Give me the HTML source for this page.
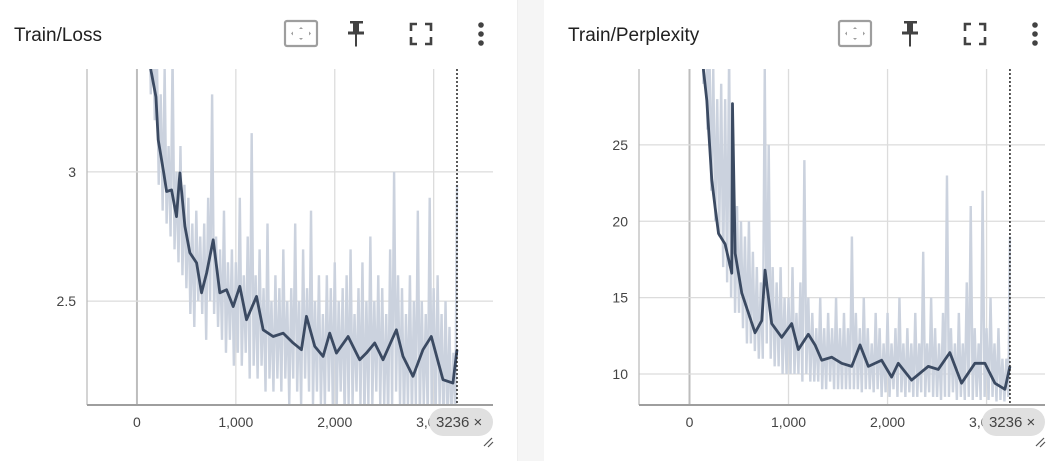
<!DOCTYPE html>
<html><head><meta charset="utf-8"><style>
html,body{margin:0;padding:0;background:#fff;width:1064px;height:461px;overflow:hidden;font-family:"Liberation Sans",sans-serif}
.strip{position:absolute;left:517px;top:0;width:26px;height:461px;background:#f5f5f5;border-left:1px solid #eee}
</style></head><body>
<div class="strip"></div>
<svg id="svg" width="1064" height="461" style="position:absolute;left:0;top:0"></svg>
<script>
// ---- Loss data ----
const lossSmoothSteps=[50,141,192,215,266,300,350,400,434,485,535,603,653,704,771,838,906,973,1040,1108,1209,1276,1377,1478,1579,1663,1714,1798,1882,1949,2017,2135,2252,2320,2404,2488,2623,2690,2791,2892,2976,3094,3195,3236];
const lossSmoothVals=[3.7,3.394,3.29,3.124,3.008,2.924,2.93,2.827,2.996,2.789,2.687,2.648,2.532,2.608,2.737,2.532,2.544,2.479,2.557,2.428,2.518,2.389,2.363,2.376,2.338,2.312,2.441,2.325,2.286,2.376,2.299,2.363,2.273,2.299,2.338,2.273,2.389,2.286,2.209,2.312,2.363,2.196,2.183,2.312];
const lossRawVals=[4.4,3.9,4.2,3.7,3.9,3.5,3.8,3.3,3.7,3.2,
3.5,2.95,3.3,2.85,3.4,2.8,3.1,2.75,3.45,2.7,
3.0,2.65,3.1,2.6,2.95,2.55,2.9,2.45,2.8,2.4,
2.85,2.5,2.75,2.45,2.8,2.35,2.9,2.5,3.3,2.45,
2.75,2.4,2.7,2.35,2.85,2.3,2.65,2.35,2.7,2.25,
2.65,2.3,2.9,2.25,2.6,2.3,2.75,2.2,3.15,2.25,
2.6,2.2,2.7,2.25,2.55,2.15,2.8,2.2,2.5,2.15,
2.6,2.2,2.55,2.15,2.7,2.2,2.5,2.1,2.55,2.2,
2.8,2.15,2.5,2.1,2.7,2.2,2.55,2.15,2.85,2.1,
2.5,2.15,2.6,2.1,2.45,2.1,2.6,2.15,2.55,2.1,
2.65,2.1,2.5,2.15,2.55,2.05,2.6,2.1,2.7,2.1,
2.45,2.15,2.55,2.1,2.65,2.05,2.5,2.1,2.75,2.1,
2.5,2.15,2.6,2.1,2.55,2.1,2.45,2.05,2.7,2.1,
3.0,2.15,2.6,2.1,2.55,2.05,2.45,2.1,2.6,2.05,
2.5,2.1,2.85,2.05,2.5,2.1,2.45,2.05,2.9,2.1,
2.55,2.05,2.6,2.1,2.45,2.0,2.5,2.05,2.4,2.0,
2.3,2.1,2.95];
const lossYTicks=[2.5,3];
const lossYLabels=["2.5","3"];
// ---- Perplexity data ----
const pplSmoothSteps=[50,141,175,225,259,293,360,427,434,461,528,595,662,730,763,830,931,1032,1099,1200,1268,1335,1436,1537,1638,1722,1806,1940,2041,2108,2243,2411,2512,2629,2747,2882,2983,3084,3185,3236];
const pplSmoothVals=[40,29.9,27.9,22.7,20.9,19.2,18.5,16.6,27.7,17.9,15.3,14.0,12.7,13.5,16.8,13.3,12.4,13.3,11.6,12.6,11.9,10.9,11.1,10.7,10.5,11.9,10.5,10.9,9.8,10.7,9.6,10.5,10.3,11.4,9.4,10.7,10.7,9.4,9.0,10.5];
const pplRawVals=[80,50,60,40,50,33,45,29,40,26,
32,22,30,20,28,19,29,17,28,16,
31,15,24,14,21,14,20,13,19,12,
20,12,18,11.5,17,11,16,11,30,12,
25,11,17,10.5,16,10.5,17,10,15,10,
15,10,17,10,14,10,16,9.5,24,10,
15,9.5,14,9.5,13,9.5,15,9,13,9,
14,9.5,13,9,15,9,13,9,14,9,
13,9,19,9,14,9,13,8.8,15,9,
13,9,12,8.8,14,9,13,8.5,12,8.8,
14,8.5,12,9,13,8.5,15,8.8,12,8.5,
13,8.8,12,8.5,14,8.5,12,8.8,18,8.5,
12,8.8,15,8.5,13,8.5,12,8.3,14,8.5,
23,8.5,13,8.8,12,8.3,14,8.5,12,8.3,
16,8.5,21,8.3,13,8.5,12,8.3,22,8.5,
13,8.3,15,8.5,12,8.2,13,8.3,11,8.2,
11,8.5,19];
const pplYTicks=[10,15,20,25,30];
const pplYLabels=["10","15","20","25","30"];
const rawStepSpacing=20;
const xTicks=[0,1000,2000,3000];
const xLabels=["0","1,000","2,000","3,000"];
const cursorStep=3236;

const NS="http://www.w3.org/2000/svg";
const svg=document.getElementById('svg');
function mk(tag,attrs,parent){const e=document.createElementNS(NS,tag);for(const k in attrs)e.setAttribute(k,attrs[k]);(parent||svg).appendChild(e);return e;}

function drawPanel(ox,title,plot,xDom,yDom,yTicks,yLabels,rawVals,smSteps,smVals,key){
  const g=mk('g',{});
  
  
  const t=mk('text',{x:ox+14,y:41,'font-size':19,fill:'#212121'},g);t.textContent=title;
  
  
  const ic1=mk('g',{},g);
  
  
  mk('rect',{x:ox+285,y:21,width:32,height:25,rx:2,fill:'none',stroke:'#9e9e9e','stroke-width':2.2},ic1);
  mk('path',{d:`M${ox+301} 27 l-2 2 h4z M${ox+301} 40 l-2 -2 h4z M${ox+291} 33.5 l2 -2 v4z M${ox+311} 33.5 l-2 -2 v4z`,fill:'#9e9e9e'},ic1);
  const ic2=mk('g',{},g);
  
  
  mk('path',{d:`M${ox+350} 21 h13 v2.5 h-4 v8 h5 v3 h-7 v12 h-2 v-12 h-7 v-3 h5 v-8 h-3z`,fill:'#424242'},ic2);
  const ic3=mk('g',{},g);
  
  
  const fx=ox+411,fy=24;
  mk('path',{d:`M${fx} ${fy+7} v-7 h6 M${fx+14} ${fy} h6 v7 M${fx+20} ${fy+13} v7 h-6 M${fx+6} ${fy+20} h-6 v-7`,fill:'none',stroke:'#424242','stroke-width':2.6},ic3);
  const ic4=mk('g',{},g);
  
  
  [25,34,43].forEach(cy=>mk('circle',{cx:ox+481,cy:cy,r:2.8,fill:'#424242'},ic4));

  const [L,R,T,B]=plot;
  const sx=v=>L+(v-xDom[0])/(xDom[1]-xDom[0])*(R-L);
  const sy=v=>B-(v-yDom[0])/(yDom[1]-yDom[0])*(B-T);
  const cid='clip'+key;
  const cp=mk('clipPath',{id:cid},g);mk('rect',{x:L,y:T,width:R-L,height:B-T},cp);
  xTicks.forEach((v,i)=>{
    const l=mk('line',{x1:sx(v),x2:sx(v),y1:T,y2:B,stroke:v===0?'#bdbdbd':'#dcdcdc','stroke-width':v===0?2:1.3},g);
    
    
    const tx=mk('text',{x:sx(v),y:B+22,'font-size':14,fill:'#444','text-anchor':'middle'},g);tx.textContent=xLabels[i];
    
    
  });
  yTicks.forEach((v,i)=>{
    const y=sy(v);
    if(y<T+3)return;
    const l=mk('line',{x1:L,x2:R,y1:y,y2:y,stroke:'#dcdcdc','stroke-width':1.3},g);
    
    
    const tx=mk('text',{x:L-11,y:y+5,'font-size':14,fill:'#444','text-anchor':'end'},g);tx.textContent=yLabels[i];
    
    
  });
  const cg=mk('g',{'clip-path':`url(#${cid})`},g);
  const rawPts=rawVals.map((v,i)=>sx(Math.min(i*rawStepSpacing,cursorStep))+','+sy(v)).join(' ');
  const raw=mk('polyline',{points:rawPts,fill:'none',stroke:'#cbd2de','stroke-width':2.4,'stroke-linejoin':'bevel'},cg);
  
  
  const smPts=smSteps.map((s,i)=>sx(s)+','+sy(smVals[i])).join(' ');
  const sm=mk('polyline',{points:smPts,fill:'none',stroke:'#3b4a62','stroke-width':2.8,'stroke-linejoin':'round'},cg);
  
  
  mk('line',{x1:L,x2:L,y1:T,y2:B,stroke:'#bdbdbd','stroke-width':1.3},g);
  const xa=mk('line',{x1:L,x2:R,y1:B,y2:B,stroke:'#9e9e9e','stroke-width':2},g);
  
  
  const cur=mk('line',{x1:sx(cursorStep),x2:sx(cursorStep),y1:T,y2:B,stroke:'#222','stroke-width':1.5,'stroke-dasharray':'2,2'},g);
  
  
  const chip=mk('g',{},g);
  
  
  mk('rect',{x:sx(cursorStep)-28,y:B+3,width:R-sx(cursorStep)+28,height:28,rx:14,fill:'#e0e0e0'},chip);
  const ct=mk('text',{x:sx(cursorStep)-21,y:B+22,'font-size':15,fill:'#444'},chip);ct.textContent='3236 ×';
  mk('path',{d:`M${R-9} ${B+41} l8 -8 M${R-5} ${B+42} l5 -5`,stroke:'#555','stroke-width':1.2},g);
}
drawPanel(0,'Train/Loss',[87,493,69,405],[-505,3600],[2.098,3.398],lossYTicks,lossYLabels,lossRawVals,lossSmoothSteps,lossSmoothVals,'loss');
drawPanel(554,'Train/Perplexity',[639,1045,69,405],[-510,3590],[7.97,29.97],pplYTicks,pplYLabels,pplRawVals,pplSmoothSteps,pplSmoothVals,'ppl');
</script>
</body></html>
